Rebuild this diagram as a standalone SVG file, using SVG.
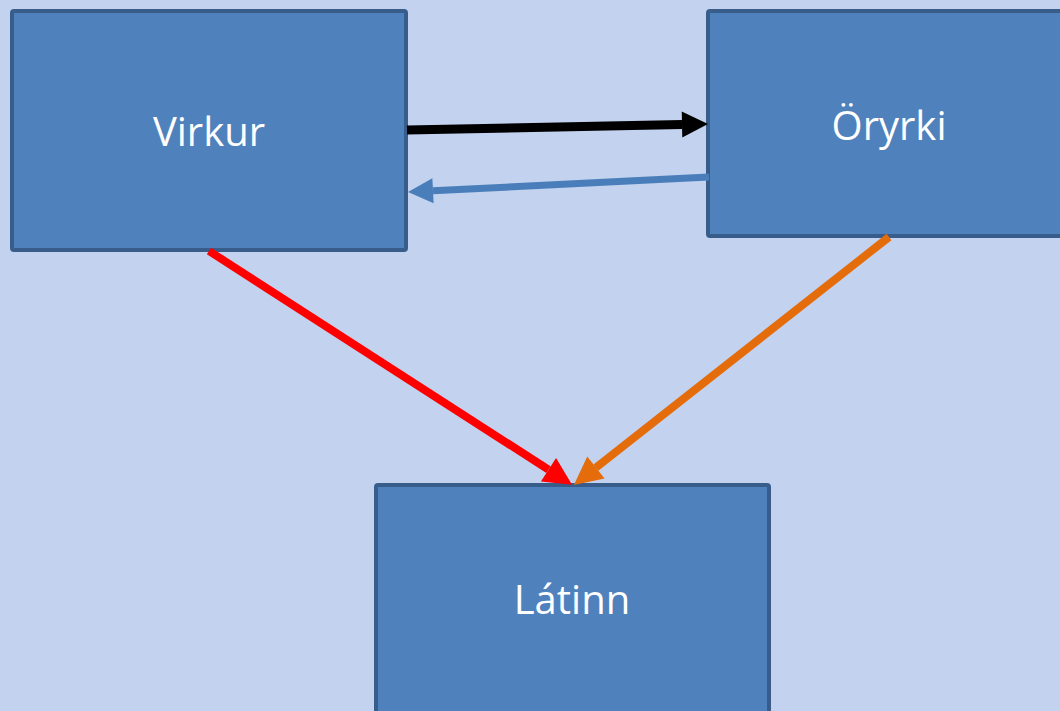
<svg xmlns="http://www.w3.org/2000/svg" width="1060" height="711" viewBox="0 0 1060 711">
<style>
.box{fill:#4f81bd;stroke:#385d8a;stroke-width:4}
.lbl{font-family:"Open Sans","Liberation Sans",sans-serif;font-size:40px;fill:#ffffff;text-anchor:middle}
.conn{fill:none;stroke-linecap:butt}
</style>
<defs>
<marker id="hBlack" markerUnits="userSpaceOnUse" markerWidth="40" markerHeight="40" viewBox="0 -20 40 40" refX="0" refY="0" orient="auto" overflow="visible"><path d="M0,-13 L26,0 L0,13 z" fill="#000000"/></marker>
<marker id="hBlue" markerUnits="userSpaceOnUse" markerWidth="40" markerHeight="40" viewBox="0 -20 40 40" refX="0" refY="0" orient="auto" overflow="visible"><path d="M0,-12.5 L25,0 L0,12.5 z" fill="#4a7ebb"/></marker>
<marker id="hRed" markerUnits="userSpaceOnUse" markerWidth="40" markerHeight="40" viewBox="0 -20 40 40" refX="0" refY="0" orient="auto" overflow="visible"><path d="M0,-14 L28,0 L0,14 z" fill="#ff0000"/></marker>
<marker id="hOrange" markerUnits="userSpaceOnUse" markerWidth="40" markerHeight="40" viewBox="0 -20 40 40" refX="0" refY="0" orient="auto" overflow="visible"><path d="M0,-14 L28,0 L0,14 z" fill="#e46c0a"/></marker>
</defs>
<rect x="0" y="0" width="1060" height="711" fill="#c3d2ee"/>
<g id="virkur"><rect class="box" x="12" y="11" width="394" height="239" rx="2"/><text class="lbl" x="209" y="146">Virkur</text></g>
<g id="oryrki"><rect class="box" x="708" y="11" width="400" height="225" rx="2"/><text class="lbl" x="889" y="140">Öryrki</text></g>
<g id="latinn"><rect class="box" x="376" y="485" width="393" height="240" rx="2"/><text class="lbl" x="572" y="614">Látinn</text></g>
<g id="connectors">
<line class="conn" x1="407" y1="130" x2="682" y2="124.5" stroke="#000000" stroke-width="9" marker-end="url(#hBlack)"/>
<line class="conn" x1="709" y1="177" x2="433" y2="190.8" stroke="#4a7ebb" stroke-width="7" marker-end="url(#hBlue)"/>
<line class="conn" x1="209" y1="251" x2="548.5" y2="469.7" stroke="#ff0000" stroke-width="8" marker-end="url(#hRed)"/>
<line class="conn" x1="889" y1="237" x2="595.9" y2="467.6" stroke="#e46c0a" stroke-width="8" marker-end="url(#hOrange)"/>
</g>
</svg>
